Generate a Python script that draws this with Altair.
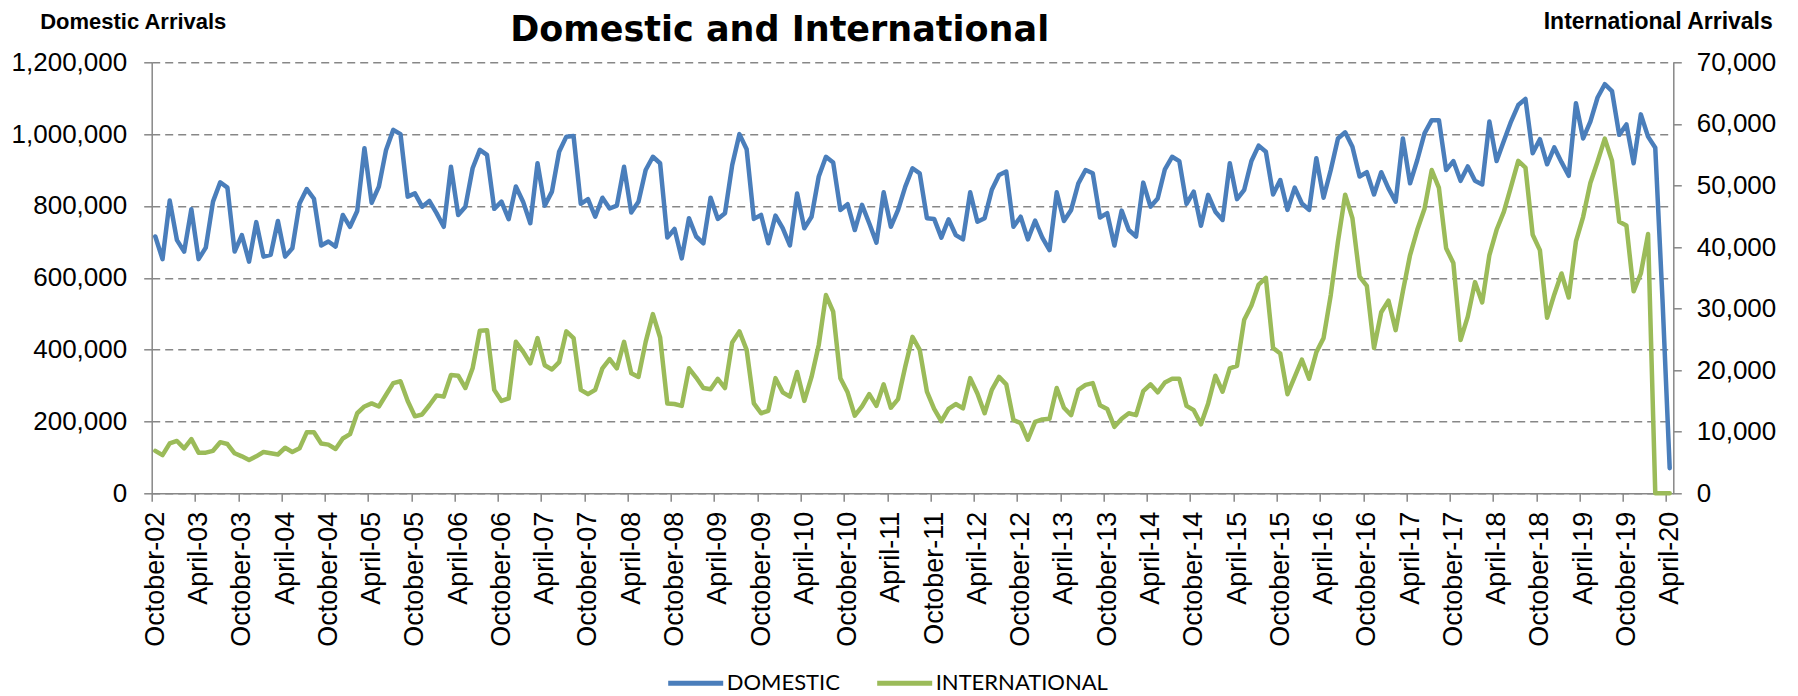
import altair as alt
import pandas as pd

# Monthly arrivals, October 2002 .. April 2020
domestic_k = [
    715, 652, 815, 705, 673, 791, 652, 684, 812, 866, 851, 673,
    719, 645, 755, 659, 664, 758, 659, 682, 807, 847, 820, 690,
    701, 687, 775, 742, 786, 961, 809, 854, 956, 1012, 1000, 826,
    835, 798, 814, 780, 742, 909, 775, 798, 905, 956, 942, 792,
    812, 763, 854, 812, 752, 919, 801, 840, 951, 993, 995, 806,
    819, 770, 823, 793, 801, 909, 782, 812, 900, 937, 919, 712,
    736, 654, 766, 715, 696, 823, 764, 780, 914, 1000, 958, 764,
    775, 696, 773, 738, 690, 835, 738, 770, 882, 937, 921, 789,
    805, 733, 803, 752, 698, 838, 742, 789, 854, 905, 891, 766,
    764, 712, 763, 719, 707, 838, 756, 766, 845, 886, 896, 742,
    770, 707, 759, 712, 677, 838, 758, 789, 863, 900, 891, 768,
    780, 690, 787, 733, 715, 865, 798, 821, 902, 937, 925, 806,
    840, 745, 831, 784, 761, 919, 819, 845, 925, 968, 951, 832,
    872, 789, 851, 807, 789, 933, 823, 900, 988, 1005, 965, 882,
    894, 832, 894, 849, 812, 988, 863, 928, 1002, 1039, 1039, 900,
    925, 870, 910, 870, 860, 1035, 925, 981, 1035, 1081, 1098, 947,
    986, 916, 963, 922, 884, 1086, 988, 1035, 1102, 1139, 1120, 998,
    1027, 919, 1055, 993, 962, 540, 70,
]
international_k = [
    6.9, 6.2, 8.1, 8.5, 7.3, 8.8, 6.6, 6.6, 6.9, 8.3, 8.0, 6.5,
    6.0, 5.4, 6.0, 6.7, 6.5, 6.3, 7.4, 6.7, 7.3, 9.9, 9.9, 8.1,
    7.9, 7.2, 8.9, 9.6, 13.0, 14.1, 14.6, 14.1, 16.0, 17.9, 18.2, 15.0,
    12.5, 12.8, 14.3, 15.9, 15.7, 19.2, 19.1, 17.1, 20.3, 26.4, 26.5, 16.8,
    15.0, 15.4, 24.6, 23.0, 21.1, 25.2, 20.8, 20.1, 21.3, 26.3, 25.2, 16.8,
    16.1, 16.8, 20.3, 21.8, 20.3, 24.6, 19.5, 18.9, 24.6, 29.1, 25.3, 14.6,
    14.5, 14.2, 20.3, 18.8, 17.1, 16.9, 18.6, 17.1, 24.5, 26.3, 23.3, 14.6,
    13.0, 13.4, 18.7, 16.4, 15.7, 19.7, 15.0, 18.9, 24.1, 32.2, 29.5, 18.7,
    16.4, 12.6, 14.1, 16.1, 14.2, 17.7, 13.9, 15.3, 20.6, 25.4, 23.3, 16.5,
    13.7, 11.7, 13.7, 14.5, 13.8, 18.7, 16.2, 13.0, 16.8, 18.9, 17.7, 11.9,
    11.4, 8.7, 11.6, 12.0, 12.1, 17.1, 13.9, 12.7, 16.8, 17.6, 17.9, 14.3,
    13.7, 10.8, 12.1, 13.0, 12.7, 16.6, 17.7, 16.4, 18.0, 18.6, 18.6, 14.2,
    13.5, 11.2, 14.6, 19.1, 16.5, 20.3, 20.7, 28.2, 30.5, 33.9, 35.0, 23.6,
    22.7, 16.1, 18.9, 21.7, 18.6, 22.9, 25.2, 32.2, 40.9, 48.5, 44.7, 35.2,
    33.7, 23.6, 29.4, 31.3, 26.5, 32.8, 38.7, 42.8, 46.2, 52.5, 49.6, 39.8,
    37.4, 24.9, 28.7, 34.3, 31.0, 38.7, 42.8, 45.7, 49.8, 54.0, 52.9, 42.0,
    39.5, 28.5, 32.3, 35.7, 31.8, 40.9, 44.9, 50.4, 53.9, 57.6, 54.0, 44.1,
    43.5, 32.8, 35.7, 42.1, 0, 0, 0,
]
tick_labels = [
    "October-02", "April-03", "October-03", "April-04", "October-04", "April-05",
    "October-05", "April-06", "October-06", "April-07", "October-07", "April-08",
    "October-08", "April-09", "October-09", "April-10", "October-10", "April-11",
    "October-11", "April-12", "October-12", "April-13", "October-13", "April-14",
    "October-14", "April-15", "October-15", "April-16", "October-16", "April-17",
    "October-17", "April-18", "October-18", "April-19", "October-19", "April-20",
]
left_ticks = [0, 200000, 400000, 600000, 800000, 1000000, 1200000]
right_ticks = [0, 10000, 20000, 30000, 40000, 50000, 60000, 70000]
series_names = ["DOMESTIC", "INTERNATIONAL"]
series_colors = ["#4a7ebb", "#9bbb59"]
chart_title = "Domestic and International"
left_title = "Domestic Arrivals"
right_title = "International Arrivals"

n = len(domestic_k)
dom_df = pd.DataFrame({
    "pos": [i + 0.5 for i in range(n)],
    "value": [v * 1000 for v in domestic_k],
    "series": series_names[0],
})
int_df = pd.DataFrame({
    "pos": [i + 0.5 for i in range(n)],
    "value": [v * 1000 for v in international_k],
    "series": series_names[1],
})

W = 1521.6
H = 431.0
GRAY = "#878787"
AXIS_FONT = "Liberation Sans"

tick_values = [6 * k for k in range(len(tick_labels))]
label_expr = "[" + ",".join("'%s'" % s for s in tick_labels) + "][round(datum.value / 6)]"

x_enc = alt.X(
    "pos:Q",
    scale=alt.Scale(domain=[0, n], nice=False, zero=False),
    axis=alt.Axis(
        values=tick_values, labelExpr=label_expr, labelAngle=-90,
        labelAlign="right", labelBaseline="middle", labelOffset=3.6,
        labelFont=AXIS_FONT, labelFontSize=27, labelColor="black",
        labelPadding=10, labelOverlap=False, labelFlush=False, labelBound=False,
        tickSize=8, tickColor=GRAY, tickWidth=1.5,
        domainColor=GRAY, domainWidth=1.5, grid=False, title=None,
    ),
)

legend = alt.Legend(
    orient="none", legendX=514, legendY=591, direction="horizontal",
    title=None, symbolType="stroke", symbolSize=3025, symbolStrokeWidth=5,
    labelFont="Lato", labelFontSize=22, labelColor="black", labelOffset=1,
    labelLimit=400, columnPadding=26,
)
color_enc = alt.Color(
    "series:N",
    scale=alt.Scale(domain=series_names, range=series_colors),
    legend=legend,
)

TOP_Y = -33.8  # baseline of the two corner titles, relative to plot top

dom = alt.Chart(dom_df).mark_line(strokeWidth=4.5, strokeJoin="round", strokeCap="round").encode(
    x=x_enc,
    y=alt.Y(
        "value:Q",
        scale=alt.Scale(domain=[0, 1200000], nice=False),
        axis=alt.Axis(
            values=left_ticks, format=",.0f", orient="left",
            labelFont=AXIS_FONT, labelFontSize=26, labelColor="black", labelPadding=17,
            tickSize=8, tickColor=GRAY, tickWidth=1.5,
            domainColor=GRAY, domainWidth=1.5,
            grid=True, gridColor=GRAY, gridWidth=1.5, gridDash=[8, 5],
            title=left_title, titleAngle=0, titleX=-112, titleY=TOP_Y,
            titleAlign="left", titleBaseline="alphabetic",
            titleFont=AXIS_FONT, titleFontSize=22, titleFontWeight="bold", titleColor="black",
        ),
    ),
    color=color_enc,
)

intl = alt.Chart(int_df).mark_line(strokeWidth=4.5, strokeJoin="round", strokeCap="round").encode(
    x=x_enc,
    y=alt.Y(
        "value:Q",
        scale=alt.Scale(domain=[0, 70000], nice=False),
        axis=alt.Axis(
            values=right_ticks, format=",.0f", orient="right",
            labelFont=AXIS_FONT, labelFontSize=26, labelColor="black", labelPadding=15,
            tickSize=8, tickColor=GRAY, tickWidth=1.5,
            domainColor=GRAY, domainWidth=1.5, grid=False,
            title=right_title, titleAngle=0, titleX=99, titleY=TOP_Y,
            titleAlign="right", titleBaseline="alphabetic",
            titleFont=AXIS_FONT, titleFontSize=23, titleFontWeight="bold", titleColor="black",
        ),
    ),
    color=color_enc,
)

title_layer = alt.Chart(pd.DataFrame({"t": [chart_title]})).mark_text(
    font="DejaVu Sans", fontSize=35, fontWeight="bold", color="black",
    align="center", baseline="alphabetic",
).encode(text="t:N", x=alt.value(628), y=alt.value(-21.5))

chart = alt.layer(dom, intl, title_layer).resolve_scale(y="independent").properties(
    width=W, height=H,
    autosize=alt.AutoSizeParams(type="none"),
    padding={"left": 143.7, "top": 54.3, "right": 110, "bottom": 202},
).configure_view(stroke=None)

chart.save("out.html", embed_options={"renderer": "svg", "actions": False})
